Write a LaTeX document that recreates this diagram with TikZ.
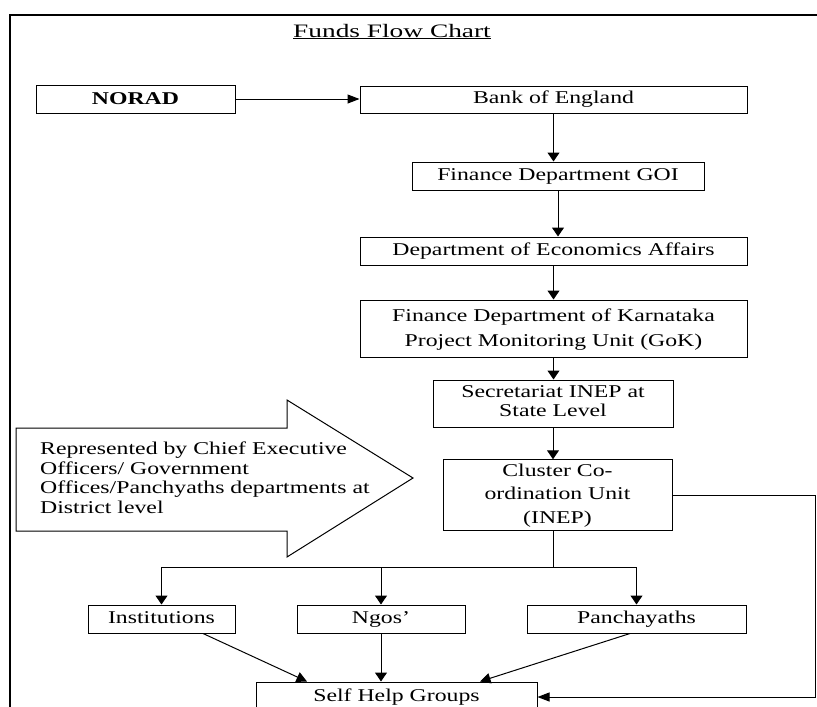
\documentclass[tikz,border=0pt]{standalone}
\usepackage{fontspec}
\usepackage{graphicx}
\setmainfont{Liberation Serif}
\usetikzlibrary{arrows.meta}
\newcommand\sx[3][22]{\raisebox{-#2}{\scalebox{1.32}[1]{\fontsize{18}{#1}\selectfont\begin{tabular}{@{}c@{}}#3\end{tabular}}}}
\newcommand\sxl[2][22]{\scalebox{1.32}[1]{\fontsize{18}{#1}\selectfont\begin{tabular}{@{}l@{}}#2\end{tabular}}}
\tikzset{
  bx/.style={draw, line width=1pt, inner sep=0pt, rectangle},
  conn/.style={line width=1pt},
  harr/.style={conn, -{Triangle[length=12pt,width=9pt]}},
  varr/.style={conn, -{Triangle[length=9pt,width=12pt]}},
  darr/.style={conn, -{Triangle[length=10.5pt,width=10.5pt]}},
  frame/.style={line width=2pt},
  bigarrow/.style={draw, line width=1pt, line join=miter}
}
\begin{document}
\begin{tikzpicture}[x=1pt,y=-1pt]
\useasboundingbox (0,0) rectangle (817,707);
\clip (0,0) rectangle (817,707);
\fill[white] (0,0) rectangle (817,707);
% frame
\draw[frame] (10,760) -- (10,15) -- (860,15);
% title
\node[anchor=base, inner sep=0pt] (title) at (392,37) {\scalebox{1.44}[1]{\fontsize{19}{23}\selectfont\underline{Funds Flow Chart}}};
% boxes
\node[bx, minimum width=199pt, minimum height=28pt] (norad) at (135.5,99) {\raisebox{-1.5pt}{\scalebox{1.32}[1]{\fontsize{18}{22}\selectfont\bfseries NORAD}}};
\node[bx, minimum width=387pt, minimum height=27pt] (bank) at (553.5,99.5) {\sx{1.5pt}{Bank of England}};
\node[bx, minimum width=292pt, minimum height=28pt] (goi) at (558,176) {\sx{1.5pt}{Finance Department GOI}};
\node[bx, minimum width=387pt, minimum height=28pt] (econ) at (553.5,251) {\sx{1.5pt}{Department of Economics Affairs}};
\node[bx, minimum width=387pt, minimum height=57pt] (karn) at (553.5,328.5) {\sx[25]{0.5pt}{Finance Department of Karnataka\\Project Monitoring Unit (GoK)}};
\node[bx, minimum width=240pt, minimum height=47pt] (secr) at (553,403.5) {\sx[19]{4pt}{Secretariat INEP at\\State Level}};
\node[bx, minimum width=229pt, minimum height=66pt] (clus) at (557.5,495) {\sx[23.5]{2.5pt}{Cluster Co-\\ordination Unit\\(INEP)}};
\node[bx, minimum width=147pt, minimum height=28pt] (inst) at (161.5,619) {\sx{1.5pt}{Institutions}};
\node[bx, minimum width=168pt, minimum height=28pt] (ngos) at (381,619) {\sx{1.5pt}{Ngos’}};
\node[bx, minimum width=219pt, minimum height=28pt] (panc) at (636.5,619) {\sx{1.5pt}{Panchayaths}};
\node[bx, minimum width=281pt, minimum height=30pt] (shg) at (396.5,697) {\sx{1pt}{Self Help Groups}};
% big arrow
\draw[bigarrow] (16,428) -- (287,428) -- (287,400) -- (413,478) -- (287,557) -- (287,531) -- (16,531) -- cycle;
\node[anchor=west, inner sep=0pt] (rep) at (40,480) {\sxl[19.5]{Represented by Chief Executive\\Officers/ Government\\Offices/Panchyaths departments at\\District level}};
% connectors
\draw[harr] (norad.east) -- (norad.east -| bank.west);
\draw[varr] (bank.south) -- (bank.south |- goi.north);
\draw[varr] (goi.south) -- (goi.south |- econ.north);
\draw[varr] (econ.south) -- (econ.south |- karn.north);
\draw[varr] (karn.south) -- (karn.south |- secr.north);
\draw[varr] (secr.south) -- (secr.south |- clus.north);
\coordinate (j) at (553,567);
\draw[conn] (secr.south |- clus.south) -- (j);
\draw[conn] (inst.north |- j) -- (panc.north |- j);
\draw[varr] (inst.north |- j) -- (inst.north);
\draw[varr] (ngos.north |- j) -- (ngos.north);
\draw[varr] (panc.north |- j) -- (panc.north);
\coordinate (rc) at (815,697);
\draw[harr] (clus.east) -| (rc) -- (shg.east);
\draw[darr] ([xshift=41.5pt]inst.south) -- ([xshift=-89.5pt]shg.north);
\draw[varr] (ngos.south) -- (ngos.south |- shg.north);
\draw[darr] ([xshift=-6.5pt]panc.south) -- ([xshift=83.5pt]shg.north);
\end{tikzpicture}
\end{document}
